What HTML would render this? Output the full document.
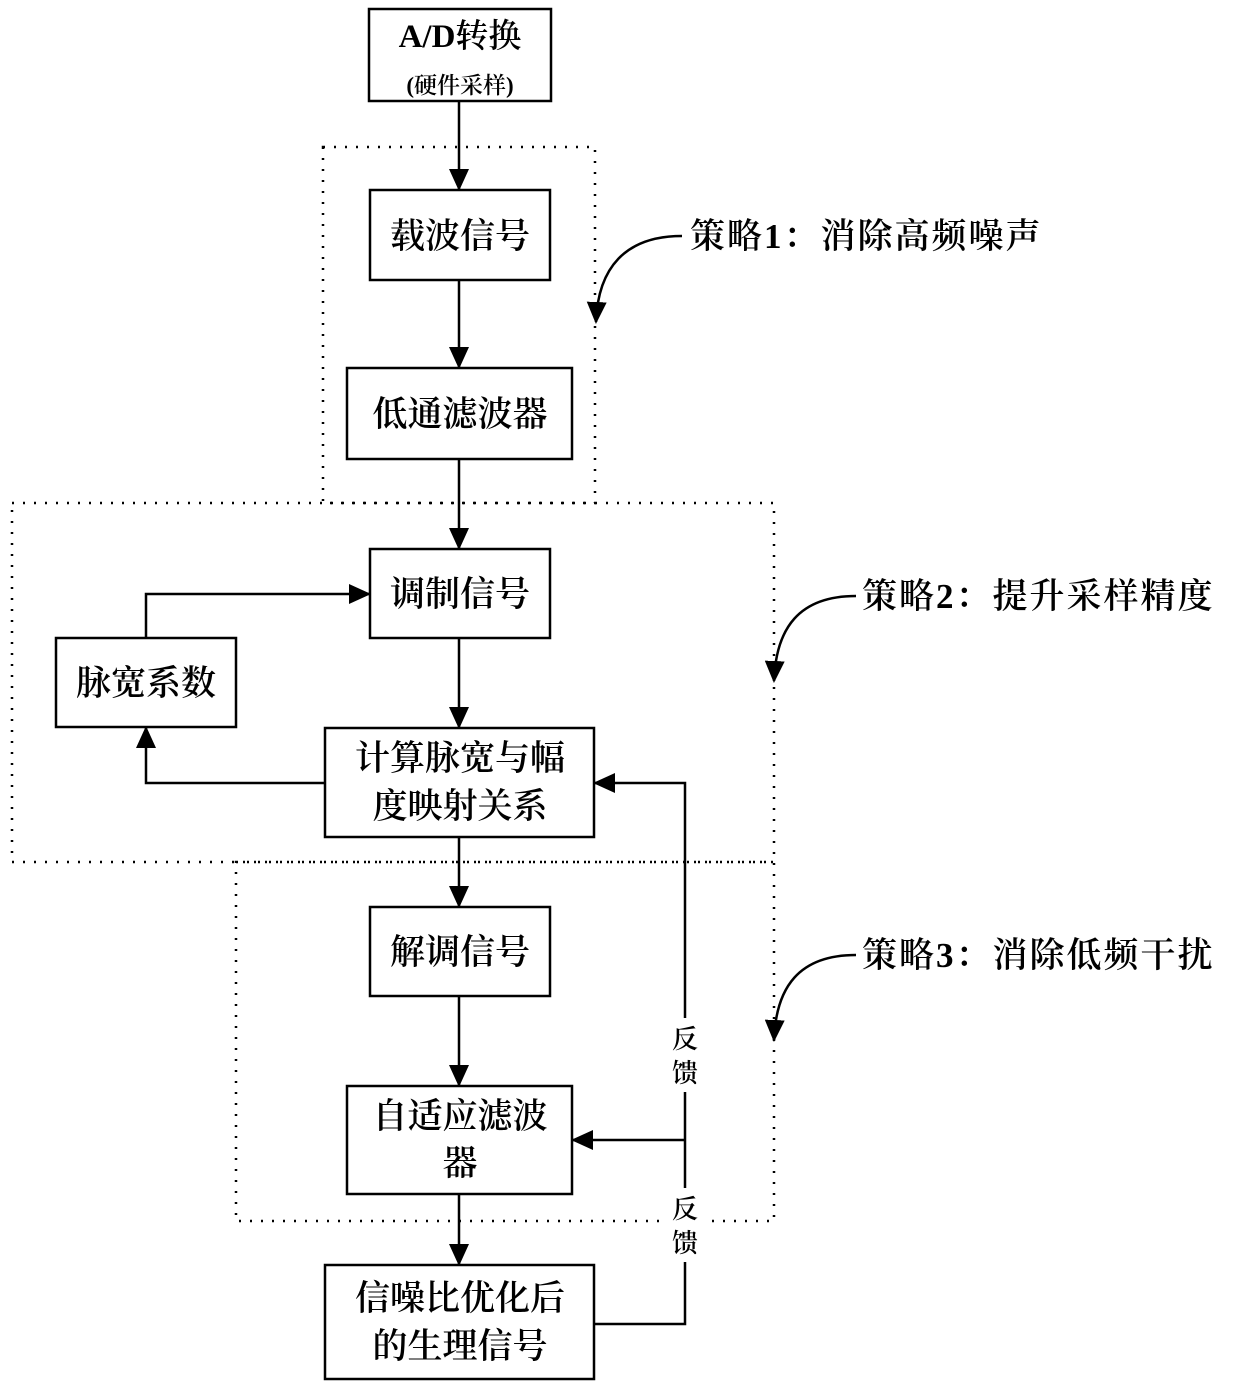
<!DOCTYPE html>
<html><head><meta charset="utf-8"><style>
html,body{margin:0;padding:0;background:#fff}
svg text{font-family:"Liberation Serif","Noto Serif CJK SC",serif;font-weight:600;fill:#000}
</style></head><body>
<svg width="1240" height="1391" viewBox="0 0 1240 1391" xmlns="http://www.w3.org/2000/svg">
<defs>
<marker id="b" markerWidth="22" markerHeight="20" refX="20" refY="10" orient="auto" markerUnits="userSpaceOnUse">
<path d="M0,0 L22,10 L0,20 z" fill="#000"/></marker>
</defs>
<style>
.d{fill:none;stroke:#000;stroke-width:2.5;stroke-dasharray:2 9}
.bx{fill:#fff;stroke:#000;stroke-width:2.5}
.l{fill:none;stroke:#000;stroke-width:2.5}
</style>
<rect class="d" x="323" y="147" width="272" height="356"/>
<rect class="d" x="12" y="503" width="762" height="359"/>
<rect class="d" x="236" y="862" width="538" height="359"/>

<g class="l">
<path d="M459,101 V189" marker-end="url(#b)"/>
<path d="M459,280 V367" marker-end="url(#b)"/>
<path d="M459,459 V548" marker-end="url(#b)"/>
<path d="M459,638 V727" marker-end="url(#b)"/>
<path d="M459,837 V906" marker-end="url(#b)"/>
<path d="M459,996 V1085" marker-end="url(#b)"/>
<path d="M459,1194 V1264" marker-end="url(#b)"/>
<path d="M325,783 H146 V728" marker-end="url(#b)"/>
<path d="M146,638 V594 H369" marker-end="url(#b)"/>
<path d="M594,1324 H685 V783 H595" marker-end="url(#b)"/>
<path d="M685,1140 H573" marker-end="url(#b)"/>
</g>

<rect class="bx" x="369" y="9" width="182" height="92"/>
<text x="460" y="47" font-size="33" font-weight="bold" text-anchor="middle">A/D转换</text>
<text x="460" y="93" font-size="23" text-anchor="middle">(硬件采样)</text>

<rect class="bx" x="370" y="190" width="180" height="90"/>
<text x="460" y="248" font-size="35" text-anchor="middle">载波信号</text>
<rect class="bx" x="347" y="368" width="225" height="91"/>
<text x="460" y="426" font-size="35" text-anchor="middle">低通滤波器</text>
<rect class="bx" x="370" y="549" width="180" height="89"/>
<text x="460" y="606" font-size="35" text-anchor="middle">调制信号</text>
<rect class="bx" x="56" y="638" width="180" height="89"/>
<text x="146" y="695" font-size="35" text-anchor="middle">脉宽系数</text>
<rect class="bx" x="325" y="728" width="269" height="109"/>
<text x="460" y="770" font-size="35" text-anchor="middle">计算脉宽与幅</text>
<text x="460" y="818" font-size="35" text-anchor="middle">度映射关系</text>
<rect class="bx" x="370" y="907" width="180" height="89"/>
<text x="460" y="964" font-size="35" text-anchor="middle">解调信号</text>
<rect class="bx" x="347" y="1086" width="225" height="108"/>
<text x="460" y="1128" font-size="35" text-anchor="middle">自适应滤波</text>
<text x="460" y="1175" font-size="35" text-anchor="middle">器</text>
<rect class="bx" x="325" y="1265" width="269" height="114"/>
<text x="460" y="1310" font-size="35" text-anchor="middle">信噪比优化后</text>
<text x="460" y="1358" font-size="35" text-anchor="middle">的生理信号</text>

<rect x="666" y="1018" width="38" height="74" fill="#fff"/>
<text x="685" y="1048" font-size="26" font-weight="normal" text-anchor="middle">反</text>
<text x="685" y="1082" font-size="26" font-weight="normal" text-anchor="middle">馈</text>
<rect x="666" y="1188" width="38" height="74" fill="#fff"/>
<text x="685" y="1218" font-size="26" font-weight="normal" text-anchor="middle">反</text>
<text x="685" y="1252" font-size="26" font-weight="normal" text-anchor="middle">馈</text>

<path class="l" stroke-width="3.5" d="M682,236 C625,236 598,268 596,322" marker-end="url(#b)"/>
<text x="690" y="248" font-size="35" letter-spacing="2">策略1：消除高频噪声</text>
<path class="l" stroke-width="3.5" d="M856,596 C799,596 776,628 774,681" marker-end="url(#b)"/>
<text x="862" y="608" font-size="35" letter-spacing="2">策略2：提升采样精度</text>
<path class="l" stroke-width="3.5" d="M856,955 C799,955 776,987 774,1040" marker-end="url(#b)"/>
<text x="862" y="967" font-size="35" letter-spacing="2">策略3：消除低频干扰</text>
</svg>
</body></html>
